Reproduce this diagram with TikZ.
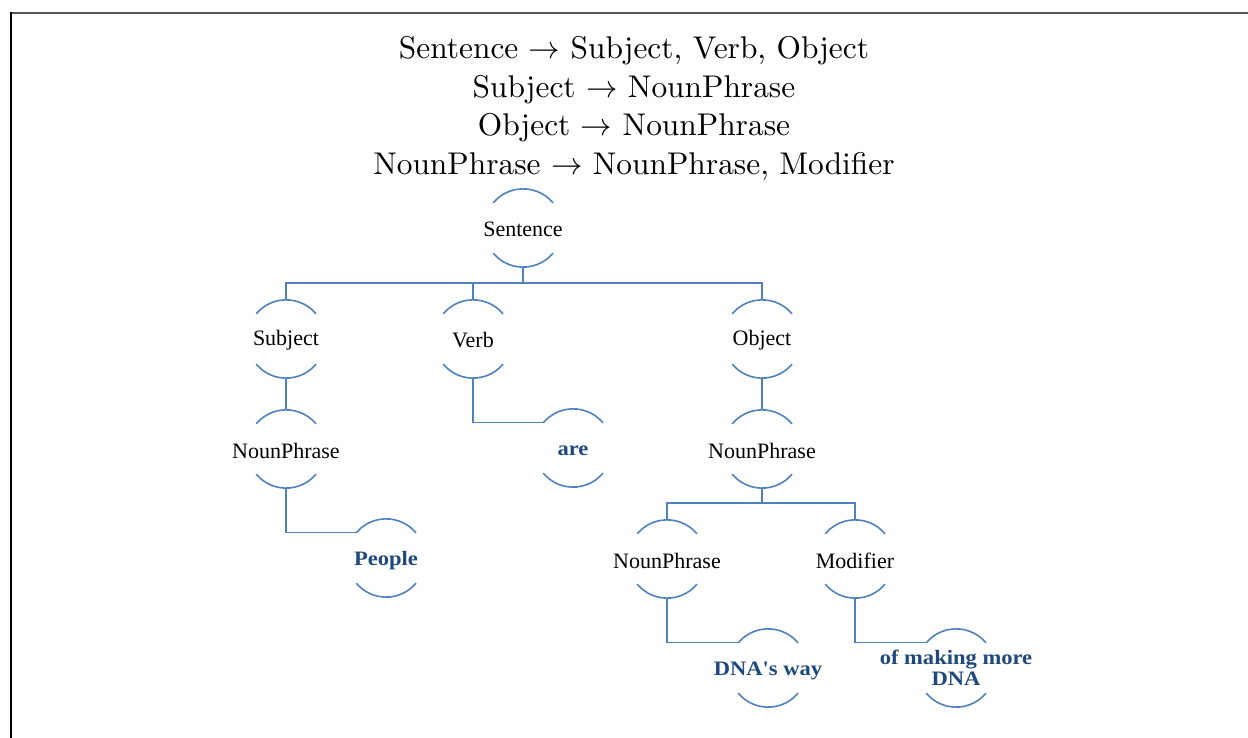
\RequirePackage{fix-cm}
\documentclass[tikz,border=0pt]{standalone}
\usepackage{fontspec}
\usepackage{graphicx}
\newfontfamily\labelfont{Liberation Serif}
\newfontfamily\leaffont[FakeStretch=1.1]{Liberation Serif}
\definecolor{arcblue}{RGB}{79,129,189}
\definecolor{leafblue}{RGB}{31,73,125}
\definecolor{framegray}{RGB}{85,85,85}
\newcommand{\grammarline}[1]{\scalebox{3.14}{\fontsize{10}{12}\selectfont #1}}
\begin{document}
\begin{tikzpicture}[x=1pt,y=1pt,
  hdr/.style={inner sep=0pt, anchor=base},
  tlbl/.style={font=\labelfont\fontsize{22}{24}\selectfont, text=black, inner sep=0pt, yshift=-1.5pt},
  llbl/.style={font=\leaffont\bfseries\fontsize{20.5}{20.5}\selectfont, text=leafblue, align=center, inner sep=0pt, yshift=-3pt},
  tnode/.style={circle, minimum size=78pt, inner sep=0pt, label={[tlbl]center:#1}},
  leaf/.style={circle, minimum size=78pt, inner sep=0pt, label={[llbl]center:#1}},
  leaftwo/.style={circle, minimum size=78pt, inner sep=0pt, label={[llbl, yshift=3pt]center:#1}},
  arcst/.style={draw=arcblue, line width=1.6pt},
  conn/.style={draw=arcblue, line width=1.4pt}]
\useasboundingbox (0,0) rectangle (1248,738);

% page frame
\draw[framegray, line width=2pt] (11,725) -- (1248,725);
\draw[black, line width=1.5pt] (11,0) -- (11,726);

% grammar rules
\node[hdr] (h1) at (634,679) {\grammarline{Sentence $\rightarrow$ Subject, Verb, Object}};
\node[hdr] (h2) at (634,640.5) {\grammarline{Subject $\rightarrow$ NounPhrase}};
\node[hdr] (h3) at (634,602) {\grammarline{Object $\rightarrow$ NounPhrase}};
\node[hdr] (h4) at (634,563) {\grammarline{NounPhrase $\rightarrow$ NounPhrase, Modifier}};

% parse tree nodes
\node[tnode=Sentence]   (sen)  at (523,510) {};
\node[tnode=Subject]    (subj) at (286,399) {};
\node[tnode=Verb]       (verb) at (473,399) {};
\node[tnode=Object]     (obj)  at (762,399) {};
\node[tnode=NounPhrase] (np1)  at (286,289) {};
\node[leaf=are]         (are)  at (573,290) {};
\node[tnode=NounPhrase] (np2)  at (762,289) {};
\node[leaf=People]      (ppl)  at (386,180) {};
\node[tnode=NounPhrase] (np3)  at (667,179) {};
\node[tnode=Modifier]   (mod)  at (855,179) {};
\node[leaf=DNA's way]   (dna)  at (768,70) {};
\node[leaftwo={of making more\\DNA}] (ofm) at (956,70) {};

% open circles: upper and lower arcs
\foreach \n in {sen,subj,verb,obj,np1,are,np2,ppl,np3,mod,dna,ofm}{
  \draw[arcst] (\n.40) arc[start angle=40, end angle=140, radius=39];
  \draw[arcst] (\n.-40) arc[start angle=-40, end angle=-140, radius=39];
}

% connectors
\coordinate (b1) at (523,455);
\coordinate (b2) at (762,235);
\draw[conn] (sen.south) -- (b1);
\draw[conn] (subj.north) |- (b1) -| (obj.north);
\draw[conn] (verb.north) -- (verb.north |- b1);
\draw[conn] (subj.south) -- (np1.north);
\draw[conn] (verb.south) |- (are.140);
\draw[conn] (obj.south) -- (np2.north);
\draw[conn] (np1.south) |- (ppl.140);
\draw[conn] (np2.south) -- (b2);
\draw[conn] (np3.north) |- (b2) -| (mod.north);
\draw[conn] (np3.south) |- (dna.140);
\draw[conn] (mod.south) |- (ofm.140);
\end{tikzpicture}
\end{document}
